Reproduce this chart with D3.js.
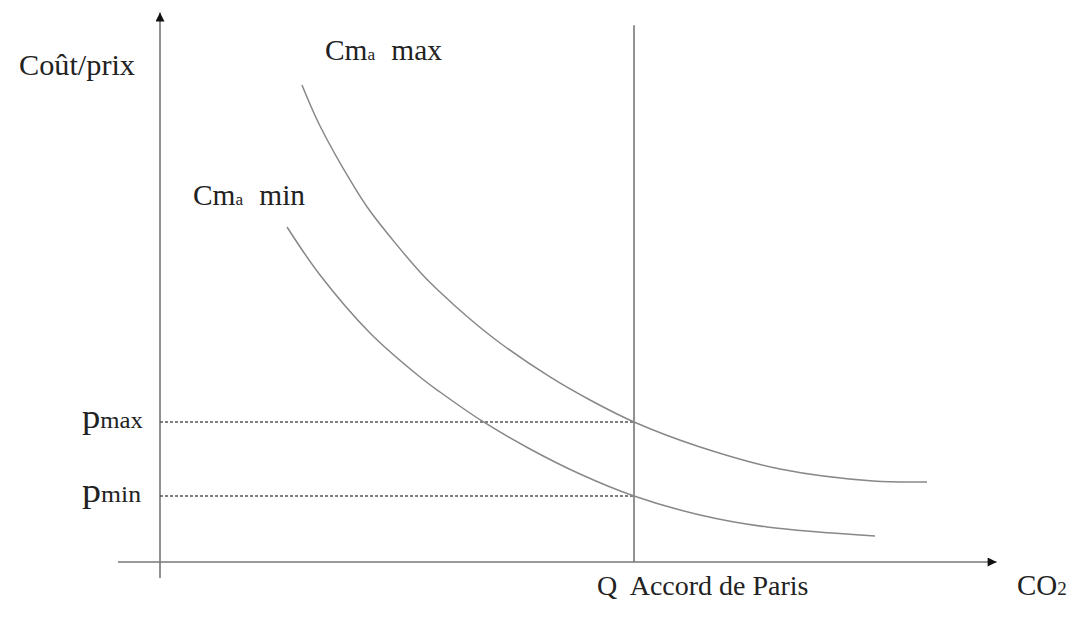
<!DOCTYPE html>
<html>
<head>
<meta charset="utf-8">
<script src="https://cdn.jsdelivr.net/npm/d3@7"></script>
<style>
  html, body { margin: 0; padding: 0; background: #fff; }
  svg { display: block; }
  text { font-family: "Liberation Serif", "Times New Roman", serif; fill: #222; }
</style>
</head>
<body>
<svg id="chart" width="1080" height="621"></svg>
<script>
// ---- data (abstract units 0-100) ----
const cmaMaxX = [16.90, 19.05, 22.98, 25.00, 30.95, 33.33, 36.90, 40.48, 46.43, 51.19, 56.43, 64.29, 73.81, 84.88, 91.31];
const cmaMaxY = [86.73, 79.27, 68.55, 63.82, 52.73, 49.09, 44.18, 39.82, 33.64, 29.45, 25.45, 20.91, 16.91, 14.73, 14.55];
const cmaMinX = [15.12, 19.05, 25.00, 30.95, 33.33, 38.33, 44.05, 50.00, 56.43, 64.29, 72.26, 85.12];
const cmaMinY = [60.91, 52.18, 41.64, 33.64, 30.91, 25.64, 20.55, 16.00, 12.00, 8.55, 6.36, 4.73];
const priceTickLabels = ["max", "min"];   // shown as p + label
const priceTickValues = [25.45, 12.0];
const quotaValue = 56.43;                  // Q Accord de Paris
const quotaLabel = "Q  Accord de Paris";
const yAxisLabel = "Coût/prix";
const xAxisLabel = "CO";
const curveLabels = ["max", "min"];

// ---- scales ----
const svg = d3.select("#chart");
const x = d3.scaleLinear().domain([0, 100]).range([160, 1000]);
const y = d3.scaleLinear().domain([0, 100]).range([562, 12]);

const axisColor = "#777";
const curveColor = "#888";

// arrow marker
const defs = svg.append("defs");
defs.append("marker")
  .attr("id", "arrow")
  .attr("viewBox", "0 0 10 10")
  .attr("refX", 10).attr("refY", 5)
  .attr("markerWidth", 15).attr("markerHeight", 9)
  .attr("markerUnits", "userSpaceOnUse")
  .attr("orient", "auto")
  .append("path").attr("d", "M0,0 L10,5 L0,10 Z").attr("fill", "#111");

// y axis
svg.append("line")
  .attr("x1", x(0)).attr("x2", x(0))
  .attr("y1", y(-2.9)).attr("y2", y(99.9))
  .attr("stroke", axisColor).attr("stroke-width", 1.6)
  .attr("marker-end", "url(#arrow)");

// x axis
svg.append("line")
  .attr("x1", x(-5)).attr("x2", x(99.6))
  .attr("y1", y(0)).attr("y2", y(0))
  .attr("stroke", axisColor).attr("stroke-width", 1.6)
  .attr("marker-end", "url(#arrow)");

// vertical quota line
svg.append("line")
  .attr("x1", x(quotaValue)).attr("x2", x(quotaValue))
  .attr("y1", y(0)).attr("y2", y(97.6))
  .attr("stroke", axisColor).attr("stroke-width", 1.6);

// dashed price lines
svg.selectAll(".pline").data(priceTickValues).enter().append("line")
  .attr("class", "pline")
  .attr("x1", x(0)).attr("x2", x(quotaValue))
  .attr("y1", d => y(d)).attr("y2", d => y(d))
  .attr("stroke", "#555").attr("stroke-width", 1.4)
  .attr("stroke-dasharray", "3,2");

// curves
const line = d3.line().x(d => x(d[0])).y(d => y(d[1])).curve(d3.curveCatmullRom.alpha(0.5));
const maxPts = cmaMaxX.map((v, i) => [v, cmaMaxY[i]]);
const minPts = cmaMinX.map((v, i) => [v, cmaMinY[i]]);
[maxPts, minPts].forEach(pts => {
  svg.append("path").attr("d", line(pts))
    .attr("fill", "none").attr("stroke", curveColor).attr("stroke-width", 1.5);
});

// y axis label
svg.append("text").attr("x", 19).attr("y", 75)
  .attr("font-size", 29).attr("textLength", 116).attr("lengthAdjust", "spacingAndGlyphs")
  .text(yAxisLabel);

// curve labels
const curveLabelPos = [[325, 60], [193, 205]];
const curveLabelLen = [117, 112];
curveLabels.forEach((lab, i) => {
  const t = svg.append("text").attr("x", curveLabelPos[i][0]).attr("y", curveLabelPos[i][1])
    .attr("font-size", 29).attr("textLength", curveLabelLen[i]).attr("lengthAdjust", "spacingAndGlyphs");
  t.append("tspan").text("Cm");
  t.append("tspan").attr("font-size", 17).text("a");
  t.append("tspan").attr("dx", 16).text(lab);
});

// price tick labels
const priceLabelLen = [61, 59];
priceTickLabels.forEach((lab, i) => {
  const t = svg.append("text").attr("x", 82).attr("y", y(priceTickValues[i]) + 6)
    .attr("font-size", 34).attr("textLength", priceLabelLen[i]).attr("lengthAdjust", "spacingAndGlyphs");
  t.append("tspan").text("p");
  t.append("tspan").attr("font-size", 23).text(lab);
});

// quota label
svg.append("text").attr("x", x(quotaValue) - 37).attr("y", 595)
  .attr("font-size", 28).attr("xml:space", "preserve").style("white-space", "pre").text(quotaLabel);

// x axis label
const co = svg.append("text").attr("x", 1017).attr("y", 595).attr("font-size", 29);
co.append("tspan").text(xAxisLabel);
co.append("tspan").attr("font-size", 19).text("2");
</script>
</body>
</html>
